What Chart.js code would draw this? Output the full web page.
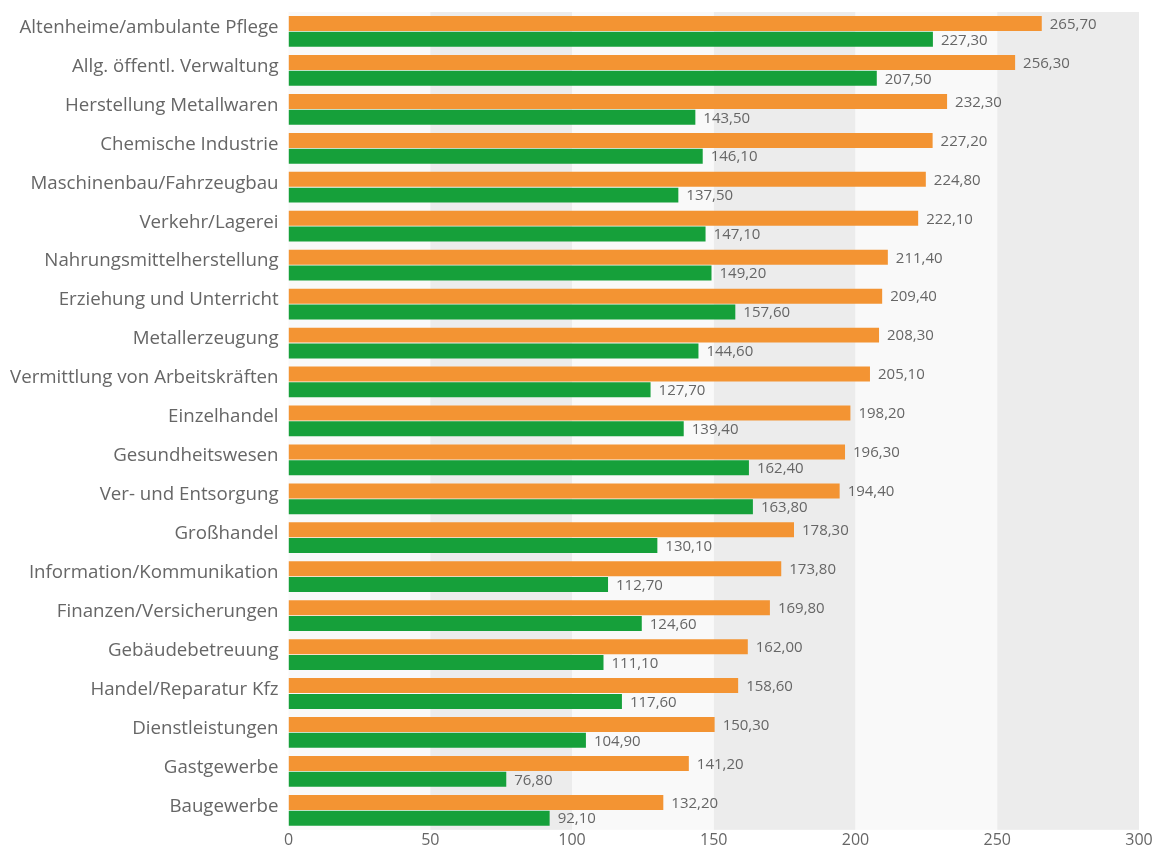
<!DOCTYPE html>
<html>
<head>
<meta charset="utf-8">
<script src="https://cdn.jsdelivr.net/npm/chart.js@4/dist/chart.umd.min.js"></script>
<style>
  html, body { margin: 0; padding: 0; background: #fff; }
  #wrap { width: 1156px; height: 848px; position: relative; }
</style>
</head>
<body>
<div id="wrap"><canvas id="branchen-chart"></canvas></div>
<script>
const branchen = [
    'Altenheime/ambulante Pflege', 'Allg. öffentl. Verwaltung', 'Herstellung Metallwaren',
    'Chemische Industrie', 'Maschinenbau/Fahrzeugbau', 'Verkehr/Lagerei',
    'Nahrungsmittelherstellung', 'Erziehung und Unterricht', 'Metallerzeugung',
    'Vermittlung von Arbeitskräften', 'Einzelhandel', 'Gesundheitswesen',
    'Ver- und Entsorgung', 'Großhandel', 'Information/Kommunikation',
    'Finanzen/Versicherungen', 'Gebäudebetreuung', 'Handel/Reparatur Kfz',
    'Dienstleistungen', 'Gastgewerbe', 'Baugewerbe'
];
const werteOrange = [265.7, 256.3, 232.3, 227.2, 224.8, 222.1, 211.4, 209.4, 208.3, 205.1,
    198.2, 196.3, 194.4, 178.3, 173.8, 169.8, 162.0, 158.6, 150.3, 141.2, 132.2];
const werteGruen = [227.3, 207.5, 143.5, 146.1, 137.5, 147.1, 149.2, 157.6, 144.6, 127.7,
    139.4, 162.4, 163.8, 130.1, 112.7, 124.6, 111.1, 117.6, 104.9, 76.8, 92.1];
const xTicks = [0, 50, 100, 150, 200, 250, 300];

const FONT = '"Open Sans", "Noto Sans", sans-serif';
const fmt = v => v.toFixed(2).replace('.', ',');

// alternating vertical bands behind the bars
const bandPlugin = {
    id: 'bands',
    beforeDraw(chart) {
        const { ctx, chartArea, scales: { x } } = chart;
        ctx.save();
        for (let i = 0; i < xTicks.length - 1; i++) {
            const x0 = x.getPixelForValue(xTicks[i]);
            const x1 = x.getPixelForValue(xTicks[i + 1]);
            ctx.fillStyle = i % 2 === 0 ? '#f9f9f9' : '#ececec';
            ctx.fillRect(x0, chartArea.top, x1 - x0, chartArea.bottom - chartArea.top);
        }
        ctx.restore();
    }
};

// value labels at the end of each bar
const valueLabelPlugin = {
    id: 'valueLabels',
    afterDatasetsDraw(chart) {
        const { ctx } = chart;
        ctx.save();
        ctx.font = '15px ' + FONT;
        ctx.fillStyle = '#666666';
        ctx.textAlign = 'left';
        ctx.textBaseline = 'middle';
        chart.data.datasets.forEach((ds, di) => {
            chart.getDatasetMeta(di).data.forEach((bar, i) => {
                ctx.fillText(fmt(ds.data[i]), bar.x + 8, bar.y + 1);
            });
        });
        ctx.restore();
    }
};

const ctx = document.getElementById('branchen-chart').getContext('2d');
new Chart(ctx, {
    type: 'bar',
    data: {
        labels: branchen,
        datasets: [
            { data: werteOrange, backgroundColor: '#f39433', barPercentage: 0.95, categoryPercentage: 0.81 },
            { data: werteGruen, backgroundColor: '#16a03a', barPercentage: 0.95, categoryPercentage: 0.81 }
        ]
    },
    options: {
        indexAxis: 'y',
        responsive: true, maintainAspectRatio: false,
        animation: false,
        layout: { padding: { top: 12, right: 17, bottom: 0, left: 0 } },
        plugins: {
            legend: { display: false },
            tooltip: { enabled: false }
        },
        scales: {
            x: {
                min: 0, max: 300,
                grid: { display: false, drawTicks: false },
                border: { display: false },
                afterBuildTicks: axis => { axis.ticks = xTicks.map(v => ({ value: v })); },
                afterFit: axis => { axis.height -= 3; axis.paddingRight = 0; },
                ticks: { color: '#666666', font: { family: FONT, size: 16 }, padding: 1 }
            },
            y: {
                grid: { display: false, drawTicks: false },
                border: { display: false },
                // the category labels need no extra room above or below the plot
                afterFit: axis => { axis.paddingTop = 0; axis.paddingBottom = 0; },
                ticks: { color: '#666666', font: { family: FONT, size: 18.7 }, padding: 10, autoSkip: false, labelOffset: -4 }
            }
        }
    },
    plugins: [bandPlugin, valueLabelPlugin]
});
</script>
</body>
</html>
